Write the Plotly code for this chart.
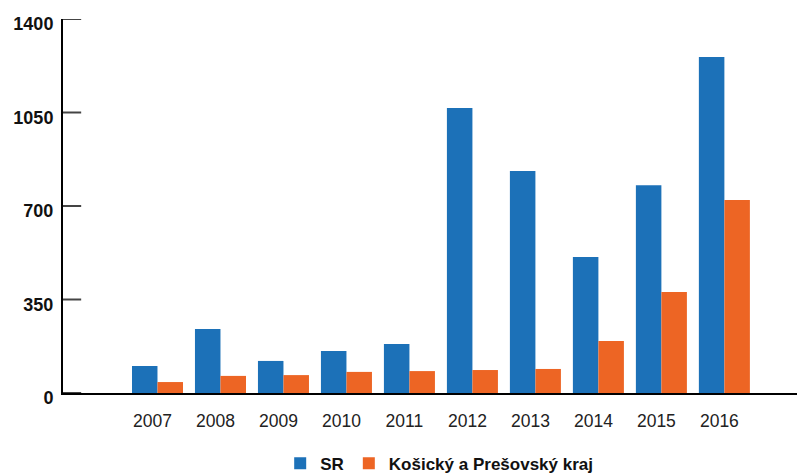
import plotly.graph_objects as go

years = ["2007", "2008", "2009", "2010", "2011", "2012", "2013", "2014", "2015", "2016"]
sr = [101, 240, 120, 157, 183, 1067, 831, 509, 778, 1258]
kosice_presov = [41, 64, 67, 79, 82, 86, 90, 195, 378, 722]
y_ticks = [0, 350, 700, 1050, 1400]

FONT = "Liberation Sans, Arial, sans-serif"

fig = go.Figure()
fig.add_trace(go.Bar(x=years, y=sr, name="SR", marker_color="#1c71b8", marker_line_width=0))
fig.add_trace(go.Bar(x=years, y=kosice_presov, name="Košický a Prešovský kraj",
                     marker_color="#ed6524", marker_line_width=0))

# inward tick marks on the value axis, placed at the tick values
for v in y_ticks:
    fig.add_shape(type="line", xref="paper", yref="y", x0=0, x1=0.0245, y0=v, y1=v,
                  line=dict(color="#444", width=2), layer="above")

# page body has an 8px default margin, so the figure is offset by 8px
fig.update_layout(
    width=797, height=467,
    margin=dict(l=55, r=0, t=11, b=82),
    paper_bgcolor="white", plot_bgcolor="white",
    barmode="group", bargap=0.19, bargroupgap=0,
    font=dict(family=FONT, color="#111"),
    showlegend=True,
    legend=dict(orientation="h", x=0.507, xanchor="center",
                yref="container", y=0.024, yanchor="middle",
                font=dict(family=FONT, size=17, color="#111", weight="bold"),
                itemclick=False),
)
fig.update_xaxes(
    type="category", range=[-1.5, 10.28], automargin=False,
    showline=True, linecolor="#000", linewidth=2,
    showgrid=False, ticks="outside", ticklen=11, tickcolor="rgba(0,0,0,0)",
    tickfont=dict(family=FONT, size=17.5, color="#222"),
    ticklabelshift=-5,
)
fig.update_yaxes(
    range=[0, 1400], tickvals=y_ticks, ticktext=[str(v) for v in y_ticks],
    automargin=False,
    showline=True, linecolor="#000", linewidth=2,
    showgrid=False, zeroline=False, ticks="",
    tickfont=dict(family=FONT, size=18, color="#111", weight="bold"),
    ticklabelshift=5, ticklabelstandoff=4,
)

fig.write_html("out.html")
